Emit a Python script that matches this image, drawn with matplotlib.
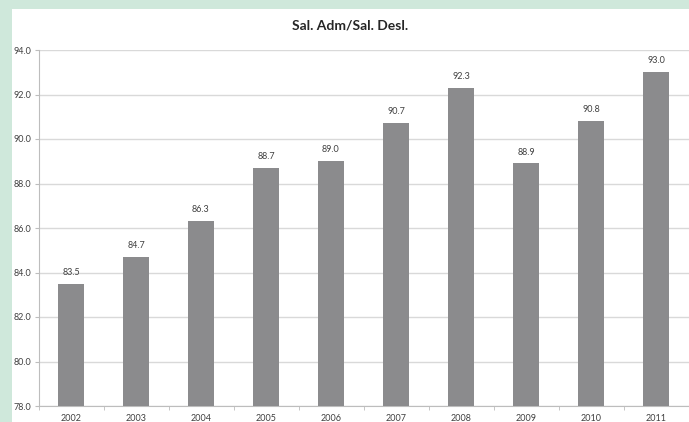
import matplotlib.pyplot as plt
from matplotlib.patches import Rectangle

years = ['2002', '2003', '2004', '2005', '2006', '2007', '2008', '2009', '2010', '2011']
ratio = [83.5, 84.7, 86.3, 88.7, 89.0, 90.7, 92.3, 88.9, 90.8, 93.0]
y_ticks = [78.0, 80.0, 82.0, 84.0, 86.0, 88.0, 90.0, 92.0, 94.0]

plt.rcParams['font.family'] = ['Lato', 'DejaVu Sans']

fig = plt.figure(figsize=(6.89, 4.22), dpi=100)
fig.patch.set_facecolor('#cfe8db')
# white chart panel, kept behind the axes
fig.patches.append(Rectangle((12 / 689, 0), 1, 1 - 9 / 422, transform=fig.transFigure,
                             facecolor='white', edgecolor='none', zorder=-10))

ax = fig.add_axes([38.5 / 689, 1 - 406 / 422, 650 / 689, 356 / 422])
ax.set_facecolor('none')

pos = range(len(years))
ax.bar(pos, ratio, width=0.4, color='#8b8b8d', zorder=3)
for x, v in zip(pos, ratio):
    ax.annotate(f'{v:.1f}', (x, v), xytext=(0, 5), textcoords='offset points',
                ha='center', va='bottom', fontsize=6.5, color='#404040')

ax.set_ylim(78, 94)
ax.set_xlim(-0.5, len(years) - 0.5)
ax.set_yticks(y_ticks)
ax.set_yticklabels([f'{t:.1f}' for t in y_ticks], fontsize=6.5, color='#404040')
ax.set_xticks(list(pos))
ax.set_xticklabels(years, fontsize=6.5, color='#404040')
ax.set_xticks([i + 0.5 for i in range(-1, len(years))], minor=True)
ax.tick_params(axis='x', which='major', length=0, pad=6)
ax.tick_params(axis='x', which='minor', length=3, color='#bdbdbd')
ax.tick_params(axis='y', length=3, color='#bdbdbd', pad=2)
ax.grid(axis='y', color='#d9d9d9', linewidth=1, zorder=0)

for side in ['top', 'right']:
    ax.spines[side].set_visible(False)
ax.spines['left'].set_color('#bdbdbd')
ax.spines['bottom'].set_color('#bdbdbd')

fig.text(0.5 + 12 / 689 / 2, 1 - 25 / 422, 'Sal. Adm/Sal. Desl.', ha='center', va='center',
         fontsize=10, fontweight='bold', color='#262626')

fig.savefig('out.png', dpi=100, facecolor=fig.get_facecolor())
